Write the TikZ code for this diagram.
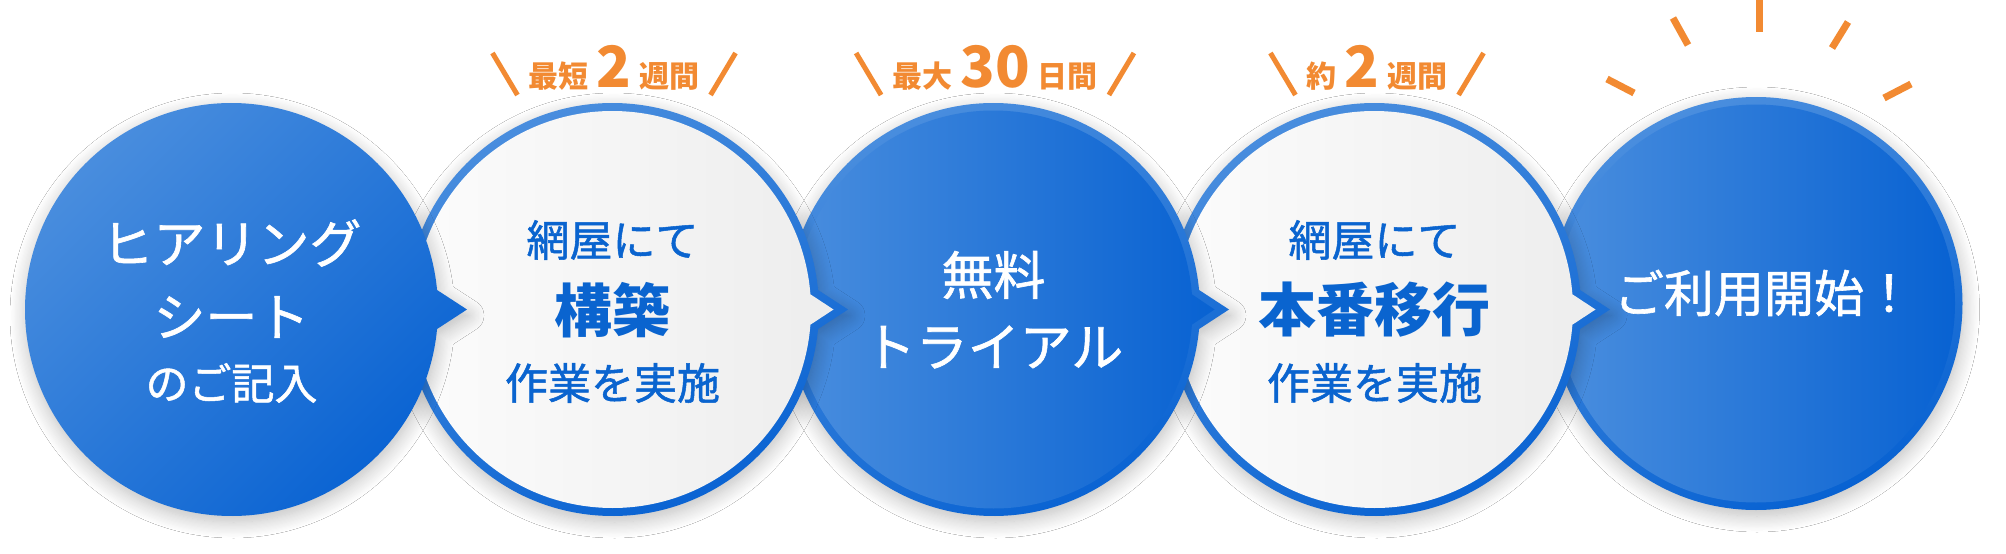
\documentclass[tikz,border=0pt]{standalone}
\usepackage{fontspec}
\setmainfont{Noto Sans CJK JP}
\newfontfamily\midfont{Noto Sans CJK JP}[FakeBold=1.2]
\usetikzlibrary{calc,shadows.blur}
\definecolor{bluelight}{HTML}{4A8EDE}
\definecolor{bluedark}{HTML}{0862D2}
\definecolor{txtblue}{HTML}{0A64CF}
\definecolor{accent}{HTML}{F28A32}
\definecolor{paper}{HTML}{FCFCFC}
\definecolor{paperdark}{HTML}{EDEDED}

\begin{document}
\begin{tikzpicture}[x=1pt,y=-1pt,
  shadowed/.style={blur shadow={shadow xshift=1pt,shadow yshift=-6pt,shadow blur radius=16pt,shadow opacity=26,shadow blur steps=14}},
  rim/.style={top color=bluelight,bottom color=bluedark,shading angle=25},
  blueface/.style={left color=bluelight,right color=bluedark},
  paperface/.style={left color=paper,right color=paperdark},
  bubble/.style n args={4}{insert path={($(#1)+({asin(#3/#2)}:#2)$) arc[start angle={asin(#3/#2)},end angle={360-asin(#3/#2)},radius=#2] -- ($(#1)+(#4,0)$) -- cycle}},
  wtxt/.style={text=white,inner sep=0pt},
  btxt/.style={text=txtblue,inner sep=0pt},
  lab/.style={text=accent,font=\bfseries\fontsize{30}{30}\selectfont,anchor=base,inner sep=0pt},
  slashmark/.style={accent,line width=5pt},
  sunray/.style={accent,line width=7pt}]
  \fill[white] (0,0) rectangle (2006,554);
  \useasboundingbox (0,0) rectangle (2006,554);

  \coordinate (c1) at (231.5,309.5);
  \coordinate (c2) at (612.5,309.5);
  \coordinate (c3) at (993.5,309.5);
  \coordinate (c4) at (1374.5,309.5);
  \coordinate (c5) at (1756,303.5);

  % bubbles from back to front
  \path[shadowed,rim] (c5) circle[radius=206.5];
  \path[blueface] (c5) circle[radius=199];
  \path[shadowed,rim,bubble={c4}{206.5}{19.5}{235.5}];
  \path[paperface,bubble={c4}{198.5}{15.2}{221}];
  \path[shadowed,rim,bubble={c3}{206.5}{19.5}{235.5}];
  \path[blueface,bubble={c3}{199}{15.2}{221}];
  \path[shadowed,rim,bubble={c2}{206.5}{19.5}{235.5}];
  \path[paperface,bubble={c2}{198.5}{15.2}{221}];
  \path[shadowed,top color=bluelight,bottom color=bluedark,shading angle=45,bubble={c1}{206.5}{19.5}{235.5}];

  \node[wtxt,font=\midfont\fontsize{52}{52}\selectfont] (hearing) at ($(c1)+(0,-66.5)$) {ヒアリング};
  \node[wtxt,font=\midfont\fontsize{52}{52}\selectfont] (sheet) at ($(c1)+(0,7.5)$) {シート};
  \node[wtxt,font=\midfont\fontsize{43}{43}\selectfont] (entry) at ($(c1)+(0,73.5)$) {のご記入};

  \node[btxt,font=\midfont\fontsize{43}{43}\selectfont] (amiya1) at ($(c2)+(0,-69.5)$) {網屋にて};
  \node[btxt,font=\bfseries\fontsize{58}{58}\selectfont] (build) at ($(c2)+(0,0.5)$) {構築};
  \node[btxt,font=\midfont\fontsize{43}{43}\selectfont] (work1) at ($(c2)+(0,73.5)$) {作業を実施};

  \node[wtxt,font=\midfont\fontsize{52}{52}\selectfont] (free) at ($(c3)+(0,-34.5)$) {無料};
  \node[wtxt,font=\midfont\fontsize{52}{52}\selectfont] (trial) at ($(c3)+(0,37.5)$) {トライアル};

  \node[btxt,font=\midfont\fontsize{43}{43}\selectfont] (amiya2) at ($(c4)+(0,-69.5)$) {網屋にて};
  \node[btxt,font=\bfseries\fontsize{58}{58}\selectfont] (golive) at ($(c4)+(0,0.5)$) {本番移行};
  \node[btxt,font=\midfont\fontsize{43}{43}\selectfont] (work2) at ($(c4)+(0,73.5)$) {作業を実施};

  \node[wtxt,font=\midfont\fontsize{50}{50}\selectfont] (start) at ($(c5)+(8,-10.5)$) {ご利用開始！};

  % durations
  \node[lab] (dur1) at (614,87) {最短\hspace{8pt}{\fontsize{57}{57}\selectfont 2}\hspace{8pt}週間};
  \node[lab] (dur2) at (995,87) {最大\hspace{8pt}{\fontsize{57}{57}\selectfont 30}\hspace{8pt}日間};
  \node[lab] (dur3) at (1377,87) {約\hspace{8pt}{\fontsize{57}{57}\selectfont 2}\hspace{8pt}週間};
  \foreach \d in {dur1,dur2,dur3}{
    \draw[slashmark] ($(\d.base west)+(-11,8)$) -- ++(-25,-42);
    \draw[slashmark] ($(\d.base east)+(11,8)$) -- ++(25,-42);
  }

  \draw[sunray] (1607,79) -- (1634,93);
  \draw[sunray] (1673,18) -- (1688,45);
  \draw[sunray] (1759,0) -- (1759,32);
  \draw[sunray] (1848,22) -- (1832,48);
  \draw[sunray] (1911,84) -- (1884,98);
\end{tikzpicture}
\end{document}
